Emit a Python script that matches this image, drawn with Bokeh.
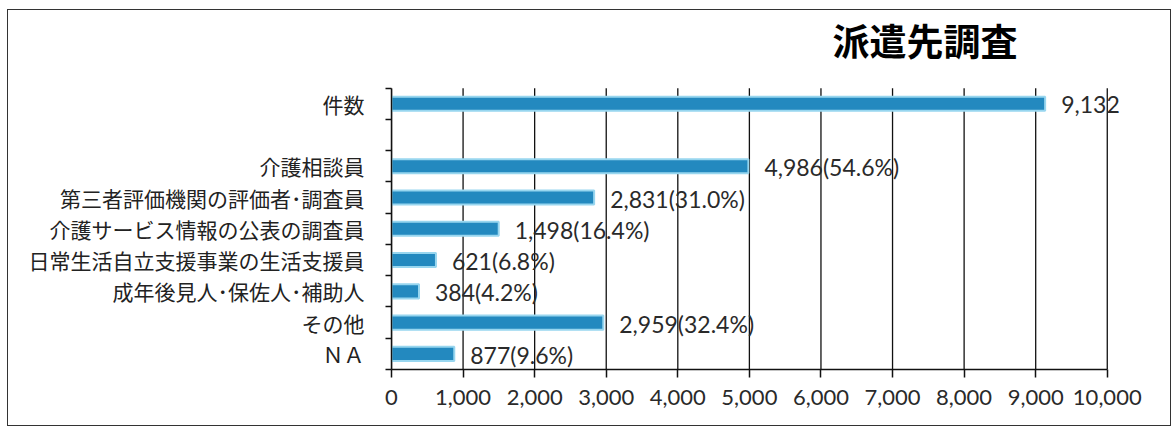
from bokeh.plotting import figure
from bokeh.models import (ColumnDataSource, Range1d, LabelSet, Label,
                          NumeralTickFormatter, FixedTicker)
from bokeh.core.properties import value
from bokeh.embed import file_html
from bokeh.resources import INLINE

# ---- data ----
title_text = "派遣先調査"
categories = ["件数", "介護相談員", "第三者評価機関の評価者･調査員",
              "介護サービス情報の公表の調査員", "日常生活自立支援事業の生活支援員",
              "成年後見人･保佐人･補助人", "その他", "ＮＡ"]
counts = [9132, 4986, 2831, 1498, 621, 384, 2959, 877]
percents = [None, "54.6", "31.0", "16.4", "6.8", "4.2", "32.4", "9.6"]
x_ticks = [0, 1000, 2000, 3000, 4000, 5000, 6000, 7000, 8000, 9000, 10000]

# slot order top→bottom, with an empty slot after the total
slots = [categories[0], ""] + categories[1:]
n_slots = len(slots)
slot_y = {name: n_slots - i - 0.5 for i, name in enumerate(slots)}

labels = []
for c, pc in zip(counts, percents):
    labels.append(f"{c:,}" if pc is None else f"{c:,}({pc}%)")

src = ColumnDataSource(dict(y=[slot_y[c] for c in categories], val=counts, lab=labels))

# geometry (pixels)
slot_px = 31.0
border_top, border_bottom = 2, 58
frame_h = 417 - 3 - border_top - border_bottom
x_max = x_ticks[-1]
px_per_unit = 71.3 / 1000
border_left, border_right = 383, 6
frame_w = 1164 - 3 - border_left - border_right

p = figure(width=1164, height=417, output_backend="svg", toolbar_location=None,
           y_range=Range1d(0, frame_h / slot_px),
           x_range=Range1d(0, frame_w / px_per_unit))
p.min_border_left = border_left
p.min_border_right = border_right
p.min_border_top = border_top
p.min_border_bottom = border_bottom
p.outline_line_color = None
p.background_fill_color = "white"
p.border_fill_color = "white"
p.styles = {"border": "1.5px solid #333", "box-sizing": "border-box",
            "margin-left": "7px", "margin-top": "9px"}

# vertical grid lines, limited to the category area
p.segment(x0=x_ticks, x1=x_ticks, y0=0, y1=n_slots, line_color="#111", line_width=1.3)

p.hbar(y="y", right="val", left=0, height=0.45, source=src,
       fill_color="#2389bf", line_color="#98d6ef", line_width=2)

p.add_layout(LabelSet(x="val", y="y", text="lab", source=src, x_offset=16, y_offset=-1,
                      text_align="left", text_baseline="middle",
                      text_font=value("Lato"), text_font_size="23px",
                      text_color="#2a2a2a"))

# x axis
xa = p.xaxis[0]
xa.ticker = FixedTicker(ticks=x_ticks)
xa.bounds = (0, x_max)
xa.formatter = NumeralTickFormatter(format="0,0")
xa.major_label_text_font = "Lato"
xa.major_label_text_font_size = "22px"
xa.major_label_text_color = "#2a2a2a"
xa.major_tick_in = 0
xa.major_tick_out = 8
xa.minor_tick_line_color = None
xa.axis_line_color = "#111"
xa.axis_line_width = 1.5
xa.major_tick_line_color = "#111"
xa.major_tick_line_width = 1.5
xa.major_label_standoff = 12

# y axis: labels at slot centres, ticks at slot boundaries
ya = p.yaxis[0]
ya.ticker = FixedTicker(ticks=[slot_y[s] for s in slots],
                        minor_ticks=list(range(0, n_slots + 1)))
ya.major_label_overrides = {slot_y[s]: s for s in slots}
ya.bounds = (0, n_slots)
ya.major_tick_in = 0
ya.major_tick_out = 0
ya.minor_tick_in = 0
ya.minor_tick_out = 6
ya.minor_tick_line_color = "#111"
ya.minor_tick_line_width = 1.3
ya.axis_line_color = "#111"
ya.axis_line_width = 1.5
ya.major_label_text_font = "Noto Sans CJK JP"
ya.major_label_text_font_size = "21px"
ya.major_label_text_color = "#222"
ya.major_label_standoff = 21

p.xgrid.grid_line_color = None
p.ygrid.grid_line_color = None

p.add_layout(Label(x=441, y=330, x_units="screen", y_units="screen",
                   text=title_text, text_font="Noto Sans CJK JP",
                   text_font_size="37px", text_font_style="bold",
                   text_baseline="middle", text_align="left",
                   text_color="#000"))

open("out.html", "w").write(file_html(p, INLINE))
